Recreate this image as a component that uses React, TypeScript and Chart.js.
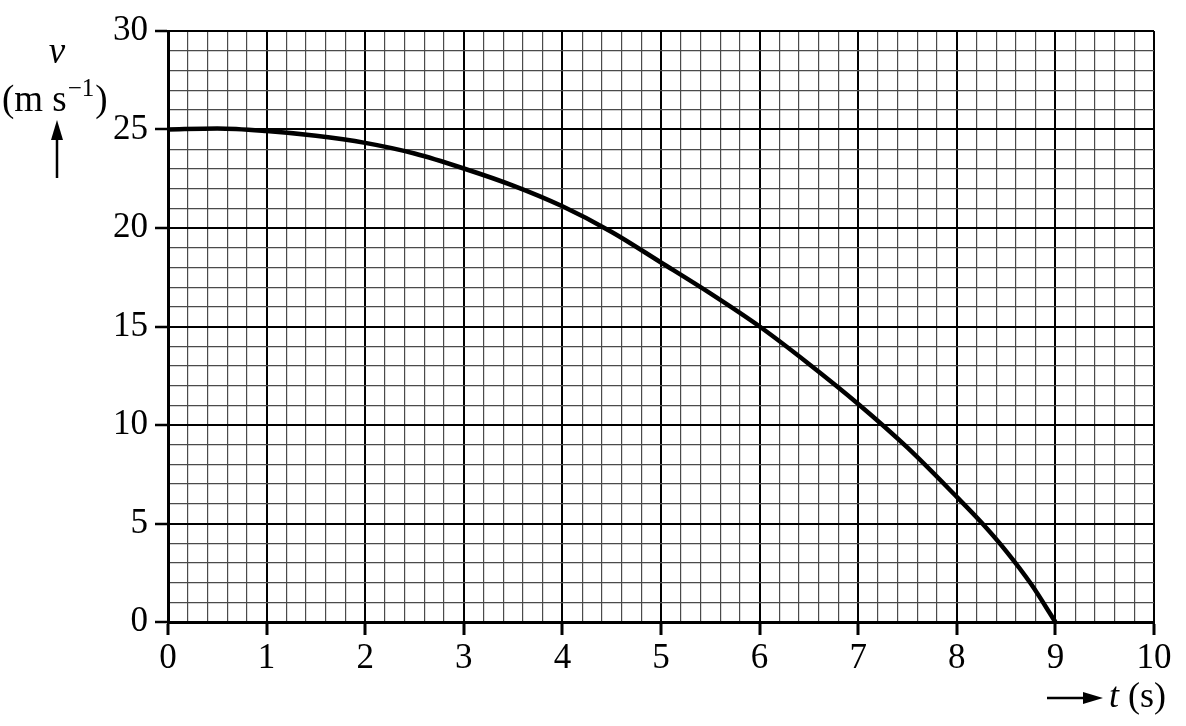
import React, { useEffect, useRef } from "react";
import { Chart, registerables } from "chart.js";

Chart.register(...registerables);

// time t (s)
const times: number[] = [0, 0.5, 1, 1.5, 2, 2.5, 3, 3.5, 4, 4.5, 5, 5.5, 6, 6.5, 7, 7.5, 8, 8.25, 8.5, 8.75, 9];
// velocity v (m s^-1)
const velocities: number[] = [25.0, 25.05, 24.92, 24.68, 24.32, 23.78, 23.02, 22.15, 21.1, 19.8, 18.25, 16.68, 15.0, 13.1, 11.07, 8.85, 6.35, 5.05, 3.6, 1.95, 0];

const xMin = 0, xMax = 10, xStep = 0.2;
const yMin = 0, yMax = 30, yStep = 1;
const yLabelEvery = 5;

const FONT = "'Liberation Serif', 'Times New Roman', serif";

const isInt = (v: number) => Math.abs(v - Math.round(v)) < 1e-6;
const isYMajor = (v: number) => isInt(v / yLabelEvery);

const titlesPlugin = {
  id: "titles",
  afterDraw(chart: any) {
    const ctx = chart.ctx as CanvasRenderingContext2D;
    ctx.save();
    ctx.fillStyle = "#000";
    ctx.strokeStyle = "#000";
    // y title
    ctx.textBaseline = "alphabetic";
    ctx.textAlign = "center";
    ctx.font = `italic 37px ${FONT}`;
    ctx.fillText("v", 57, 63);
    ctx.font = `37px ${FONT}`;
    ctx.textAlign = "left";
    const x0 = 2;
    const base = 111;
    ctx.fillText("(m s", x0, base);
    const w = ctx.measureText("(m s").width;
    ctx.font = `25px ${FONT}`;
    ctx.fillText("\u22121", x0 + w + 1, base - 15);
    const w2 = ctx.measureText("\u22121").width;
    ctx.font = `37px ${FONT}`;
    ctx.fillText(")", x0 + w + w2 + 2, base);
    // up arrow
    ctx.lineWidth = 2.5;
    ctx.beginPath();
    ctx.moveTo(57, 178);
    ctx.lineTo(57, 136);
    ctx.stroke();
    ctx.beginPath();
    ctx.moveTo(57, 120);
    ctx.lineTo(51, 140);
    ctx.lineTo(63, 140);
    ctx.closePath();
    ctx.fill();
    // x title arrow
    ctx.beginPath();
    ctx.moveTo(1047, 698);
    ctx.lineTo(1088, 698);
    ctx.stroke();
    ctx.beginPath();
    ctx.moveTo(1103, 698);
    ctx.lineTo(1083, 692);
    ctx.lineTo(1083, 704);
    ctx.closePath();
    ctx.fill();
    ctx.textAlign = "left";
    ctx.font = `italic 36px ${FONT}`;
    ctx.fillText("t", 1109, 707);
    const tw = ctx.measureText("t").width;
    ctx.font = `36px ${FONT}`;
    ctx.fillText(" (s)", 1109 + tw, 707);
    ctx.restore();
  },
};

export default function App() {
  const ref = useRef<HTMLCanvasElement | null>(null);
  useEffect(() => {
    document.body.style.margin = "0";
    const canvas = ref.current!;
    const chart = new Chart(canvas, {
      type: "line",
      data: {
        datasets: [
          {
            data: times.map((t, i) => ({ x: t, y: velocities[i] })),
            borderColor: "#000",
            borderWidth: 4.5,
            cubicInterpolationMode: "monotone",
            pointRadius: 0,
            fill: false,
          },
        ],
      },
      options: {
        animation: false,
        responsive: false,
        devicePixelRatio: 1,
        layout: { padding: { left: 0, top: 31, right: 32, bottom: 0 } },
        plugins: { legend: { display: false }, tooltip: { enabled: false } },
        scales: {
          x: {
            type: "linear",
            min: xMin,
            max: xMax,
            afterFit: (s: any) => {
              s.height = 104;
            },
            ticks: {
              stepSize: xStep,
              autoSkip: false,
              maxRotation: 0,
              maxTicksLimit: 200,
              padding: 3,
              color: "#000",
              font: { family: FONT, size: 35 },
              callback: (v: any) => (isInt(Number(v)) ? String(Math.round(Number(v))) : ""),
            },
            grid: {
              color: (c: any) => (isInt(c.tick.value) ? "#000" : "#4a4a4a"),
              lineWidth: (c: any) => (isInt(c.tick.value) ? 2 : 1.2),
              tickColor: (c: any) => (isInt(c.tick.value) ? "#000" : "rgba(0,0,0,0)"),
              tickWidth: 3,
              tickLength: 13,
            },
            border: { color: "#000", width: 3 },
          },
          y: {
            type: "linear",
            min: yMin,
            max: yMax,
            afterFit: (s: any) => {
              s.width = 168;
            },
            ticks: {
              stepSize: yStep,
              autoSkip: false,
              maxTicksLimit: 200,
              padding: 7,
              color: "#000",
              font: { family: FONT, size: 35 },
              callback: (v: any) => (isYMajor(Number(v)) ? String(Math.round(Number(v))) : ""),
            },
            grid: {
              color: (c: any) => (isYMajor(c.tick.value) ? "#000" : "#4a4a4a"),
              lineWidth: (c: any) => (isYMajor(c.tick.value) ? 2 : 1.2),
              tickColor: (c: any) => (isYMajor(c.tick.value) ? "#000" : "rgba(0,0,0,0)"),
              tickWidth: 2.5,
              tickLength: 13,
            },
            border: { color: "#000", width: 3 },
          },
        },
      },
      plugins: [titlesPlugin],
    });
    return () => chart.destroy();
  }, []);
  return (
    <div style={{ width: 1186, height: 726, background: "#fff" }}>
      <canvas ref={ref} width={1186} height={726} style={{ display: "block", width: 1186, height: 726 }} />
    </div>
  );
}
